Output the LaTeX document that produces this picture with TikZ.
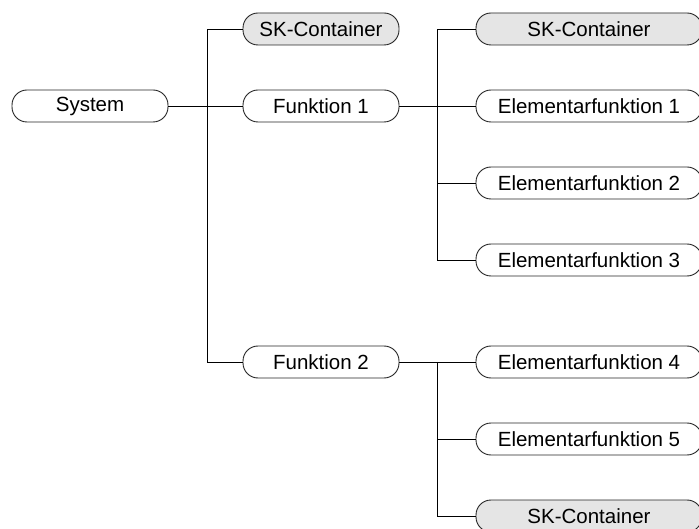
\documentclass[tikz,border=0pt]{standalone}
\usepackage{fontspec}
\setmainfont{Liberation Sans}
\begin{document}
\begin{tikzpicture}[x=1pt,y=-1pt,
  box/.style={draw=black!85,line width=0.9pt,rounded corners=15pt,minimum height=32pt,inner sep=0pt,font=\fontsize{20.5}{24}\selectfont,fill=white},
  midbox/.style={box,minimum width=156pt},
  rbox/.style={box,minimum width=226pt},
  skfill/.style={fill=black!10},
  conn/.style={draw=black,line width=0.8pt}]
\clip (0,0) rectangle (699,529);
\fill[white] (0,0) rectangle (699,529);
\node[midbox] (sys) at (90,106) {System};
\node[midbox,skfill] (sk1) at (321,29) {SK-Container};
\node[midbox] (f1) at (321,106) {Funktion 1};
\node[midbox] (f2) at (321,362) {Funktion 2};
\node[rbox,skfill] (sk2) at (589,29) {SK-Container};
\node[rbox] (e1) at (589,106) {Elementarfunktion 1};
\node[rbox] (e2) at (589,183) {Elementarfunktion 2};
\node[rbox] (e3) at (589,260) {Elementarfunktion 3};
\node[rbox] (e4) at (589,362) {Elementarfunktion 4};
\node[rbox] (e5) at (589,439) {Elementarfunktion 5};
\node[rbox,skfill] (sk3) at (589,516) {SK-Container};
\coordinate (v1) at (207,0);
\coordinate (v2) at (437,0);
\draw[conn] (sys.east) -- (f1.west);
\draw[conn] (sk1.west) -| (v1 |- f2.west) -- (f2.west);
\draw[conn] (f1.east) -- (v2 |- f1.east);
\draw[conn] (sk2.west) -| (v2 |- e3.west) -- (e3.west);
\draw[conn] (v2 |- e1.west) -- (e1.west);
\draw[conn] (v2 |- e2.west) -- (e2.west);
\draw[conn] (f2.east) -- (e4.west);
\draw[conn] (v2 |- e4.west) |- (sk3.west);
\draw[conn] (v2 |- e5.west) -- (e5.west);
\end{tikzpicture}
\end{document}
